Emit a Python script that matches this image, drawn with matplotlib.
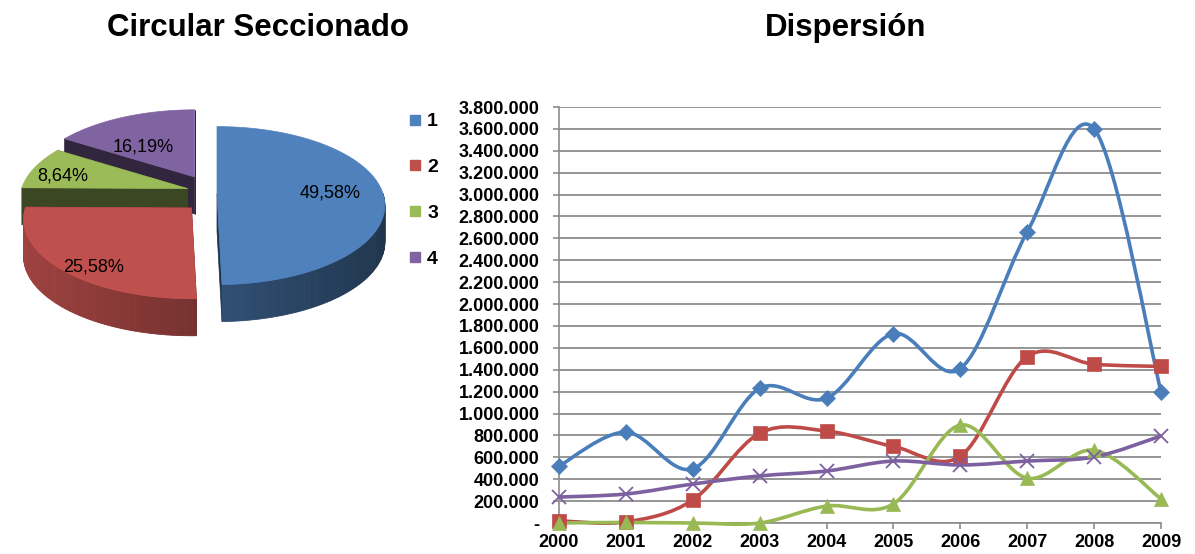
import numpy as np
import matplotlib
matplotlib.use("Agg")
import matplotlib.pyplot as plt
from matplotlib.path import Path
from matplotlib.patches import PathPatch, Polygon
from matplotlib.lines import Line2D
from matplotlib.colors import to_rgb
from matplotlib.ticker import FuncFormatter, MultipleLocator

plt.rcParams['font.family'] = ['Liberation Sans', 'DejaVu Sans']

# Datos del circular seccionado
pie_labels = ['1', '2', '3', '4']
pie_values = [49.58, 25.58, 8.64, 16.19]
pie_text = ['49,58%', '25,58%', '8,64%', '16,19%']

# Datos de dispersión
years = [2000, 2001, 2002, 2003, 2004, 2005, 2006, 2007, 2008, 2009]
serie1 = [520000, 830000, 495000, 1230000, 1140000, 1730000, 1410000, 2660000, 3600000, 1200000]
serie2 = [20000, 10000, 210000, 820000, 840000, 700000, 610000, 1520000, 1450000, 1430000]
serie3 = [0, 5000, 0, 0, 155000, 175000, 895000, 410000, 665000, 220000]
serie4 = [237000, 265000, 356000, 430000, 475000, 566000, 530000, 566000, 603000, 795000]

colors = ['#4F81BD', '#C0504D', '#9BBB59', '#8064A2']

W, H = 1195, 554
fig = plt.figure(figsize=(W / 100, H / 100), dpi=100)


def shade(c, f):
    return tuple(np.clip(np.array(to_rgb(c)) * f, 0, 1))


def smooth_path(x, y):
    # courbe lissée façon Excel (Bezier type Catmull-Rom)
    x = np.asarray(x, float)
    y = np.asarray(y, float)
    n = len(x)
    verts = [(x[0], y[0])]
    codes = [Path.MOVETO]
    for i in range(n - 1):
        i0 = max(i - 1, 0)
        i3 = min(i + 2, n - 1)
        c1 = (x[i] + (x[i + 1] - x[i0]) / 6, y[i] + (y[i + 1] - y[i0]) / 6)
        c2 = (x[i + 1] - (x[i3] - x[i]) / 6, y[i + 1] - (y[i3] - y[i]) / 6)
        verts += [c1, c2, (x[i + 1], y[i + 1])]
        codes += [Path.CURVE4] * 3
    return Path(verts, codes)


# ---------------- Circular 3D ----------------
ax_pie = fig.add_axes([0, 0, 400 / W, 1])
ax_pie.set_xlim(0, 400)
ax_pie.set_ylim(H, 0)
ax_pie.axis('off')

cx, cy = 202, 194
rx, ry = 166, 79
persp = 0.15
depth = 37
explode = 15
explode_k = 1.3
lab_pos = [(0.68, 0.6), (0.76, 0.95), (0.82, 0.6), (0.74, 0.5)]

total = sum(pie_values)
wedges = []
start = 90.0
for v in pie_values:
    a1 = start
    a2 = start - v / total * 360
    wedges.append((a2, a1))
    start = a2


def pt(apex, a, dz=0):
    r = np.radians(a)
    s = 1 - persp * np.sin(r)
    return (apex[0] + s * rx * np.cos(r), apex[1] - s * ry * np.sin(r) + dz)


for idx in [3, 2, 1, 0]:
    a2, a1 = wedges[idx]
    col = colors[idx]
    mid = np.radians((a1 + a2) / 2)
    apex = (cx + explode * np.cos(mid), cy - explode * explode_k * np.sin(mid))
    # caras de corte
    for a in (a1, a2):
        p = pt(apex, a)
        q = pt(apex, a, depth)
        ax_pie.add_patch(Polygon([apex, p, q, (apex[0], apex[1] + depth)],
                                 closed=True, facecolor=shade(col, 0.38),
                                 edgecolor=shade(col, 0.38), lw=0.5))
    # lado curvo
    angs = np.linspace(a2, a1, 150)
    for k in range(len(angs) - 1):
        am = np.radians((angs[k] + angs[k + 1]) / 2)
        if np.sin(am) < 0:
            f = 0.62 - 0.22 * np.cos(am)
            c = shade(col, f)
            p1, p2 = pt(apex, angs[k]), pt(apex, angs[k + 1])
            q1, q2 = pt(apex, angs[k], depth), pt(apex, angs[k + 1], depth)
            ax_pie.add_patch(Polygon([p1, p2, q2, q1], closed=True,
                                     facecolor=c, edgecolor=c, lw=0.6))
    # cara superior
    top = [apex] + [pt(apex, a) for a in angs]
    ax_pie.add_patch(Polygon(top, closed=True, facecolor=col, edgecolor=col, lw=0.5))
    # etiqueta
    s = 1 - persp * np.sin(mid)
    fx, fy = lab_pos[idx]
    lx = apex[0] + fx * s * rx * np.cos(mid)
    ly = apex[1] - fy * s * ry * np.sin(mid)
    ax_pie.text(lx, ly, pie_text[idx], ha='center', va='center', fontsize=13, color='black')

fig.text(258 / W, 1 - 28 / H, 'Circular Seccionado', ha='center', va='center',
         fontsize=22.5, fontweight='bold')
fig.text(846 / W, 1 - 28 / H, 'Dispersión', ha='center', va='center',
         fontsize=22.5, fontweight='bold')

# ---------------- Dispersión ----------------
ax = fig.add_axes([559 / W, (H - 523) / H, (1161 - 559) / W, (523 - 107) / H])
ax.set_xlim(years[0], years[-1])
ax.set_ylim(0, 3800000)

series = [serie1, serie2, serie3, serie4]
markers = ['D', 's', '^', 'x']
msizes = [8, 9.5, 9.5, 9.5]
line_cols = ['#4A7EBB', '#BE4B48', '#98B954', '#7D60A0']
for s, m, ms, lc in zip(series, markers, msizes, line_cols):
    ax.add_patch(PathPatch(smooth_path(years, s), facecolor='none', edgecolor=lc,
                           lw=2.6, zorder=3, clip_on=False))
    ax.plot(years, s, linestyle='none', marker=m, markersize=ms, color=lc,
            markeredgewidth=1.3 if m == 'x' else 0.5, zorder=4, clip_on=False)

ax.yaxis.set_major_locator(MultipleLocator(200000))
ax.set_xticks(years)


def miles(v, pos):
    if v == 0:
        return '-'
    return f"{int(round(v)):,}".replace(',', '.')


ax.yaxis.set_major_formatter(FuncFormatter(miles))
ax.yaxis.grid(True, color='#8C8C8C', lw=1.3)
ax.set_axisbelow(True)
for sp in ['top', 'right']:
    ax.spines[sp].set_visible(False)
for sp in ['left', 'bottom']:
    ax.spines[sp].set_color('#8C8C8C')
    ax.spines[sp].set_linewidth(1.2)
ax.tick_params(axis='both', direction='out', length=4, color='#8C8C8C', width=1.2)
ax.tick_params(axis='y', pad=10)
ax.tick_params(axis='x', pad=4)
for t in ax.get_xticklabels() + ax.get_yticklabels():
    t.set_fontsize(13)
    t.set_fontweight('bold')

handles = [Line2D([], [], linestyle='none', marker='s', markersize=7.5, color=c) for c in colors]
fig.legend(handles, pie_labels, loc='upper left', bbox_to_anchor=(400 / W, 1 - 105 / H),
           frameon=False, prop={'weight': 'bold', 'size': 14}, labelspacing=1.45,
           handlelength=0.7, handletextpad=0.3, borderaxespad=0)

plt.savefig('out.png', dpi=100)
